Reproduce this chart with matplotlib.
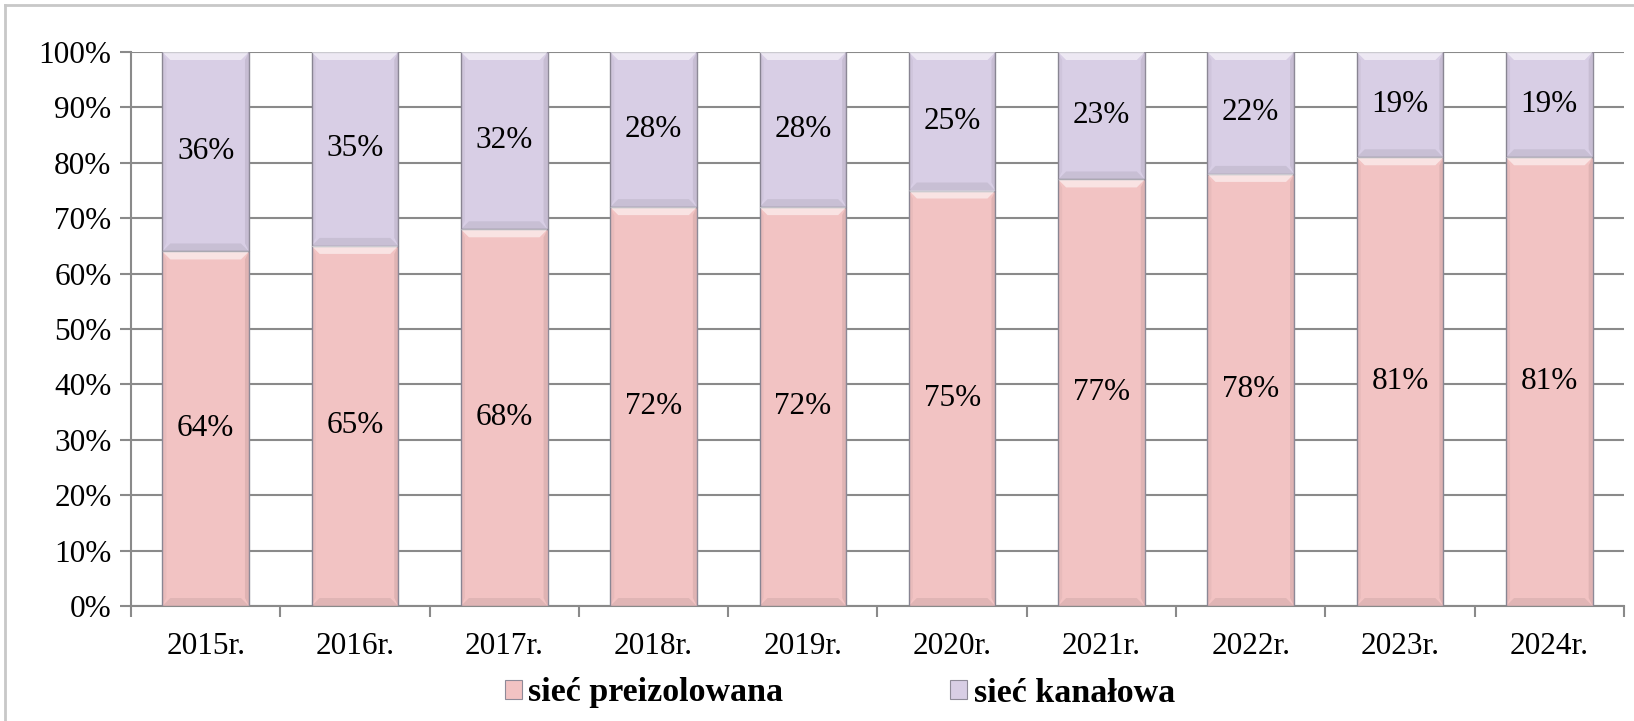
import matplotlib
matplotlib.use("Agg")
import matplotlib.pyplot as plt
from matplotlib.patches import Patch, Polygon
from matplotlib.lines import Line2D
import numpy as np

categories = ["2015r.", "2016r.", "2017r.", "2018r.", "2019r.",
              "2020r.", "2021r.", "2022r.", "2023r.", "2024r."]
preizolowana = [64, 65, 68, 72, 72, 75, 77, 78, 81, 81]
kanalowa = [36, 35, 32, 28, 28, 25, 23, 22, 19, 19]
series_names = ["sieć preizolowana", "sieć kanałowa"]
y_ticks = [0, 10, 20, 30, 40, 50, 60, 70, 80, 90, 100]
y_tick_labels = [f"{v}%" for v in y_ticks]

PINK = "#F2C3C3"
LAV = "#D8CEE5"
EDGE = "#8E8A98"
FONT = "Liberation Serif"
FS = 22.5

W, H, DPI = 1634, 721, 100
fig = plt.figure(figsize=(W / DPI, H / DPI), dpi=DPI)
ax = fig.add_axes([131 / W, (H - 606) / H, 1493 / W, 554 / H])

x = np.arange(len(categories))
bw = 0.58

b1 = ax.bar(x, preizolowana, width=bw, color=PINK, edgecolor=EDGE, linewidth=1.0, zorder=3)
b2 = ax.bar(x, kanalowa, width=bw, bottom=preizolowana, color=LAV, edgecolor=EDGE,
            linewidth=1.0, zorder=3)

# bevel decoration (derived from bar geometry)
bx = 8 / 149.3          # bevel width in category units
by = 8 / 554 * 100      # bevel height in percent units
def bevel(rect):
    x0, y0 = rect.get_x(), rect.get_y()
    x1, y1 = x0 + rect.get_width(), y0 + rect.get_height()
    top = Polygon([[x0, y1], [x1, y1], [x1 - bx, y1 - by], [x0 + bx, y1 - by]],
                  closed=True, facecolor="white", alpha=0.55, edgecolor="none", zorder=4)
    bot = Polygon([[x0, y0], [x1, y0], [x1 - bx, y0 + by], [x0 + bx, y0 + by]],
                  closed=True, facecolor="black", alpha=0.07, edgecolor="none", zorder=4)
    left = Polygon([[x0, y0], [x0, y1], [x0 + bx * 0.5, y1 - by], [x0 + bx * 0.5, y0 + by]],
                   closed=True, facecolor="black", alpha=0.04, edgecolor="none", zorder=4)
    right = Polygon([[x1, y0], [x1, y1], [x1 - bx * 0.5, y1 - by], [x1 - bx * 0.5, y0 + by]],
                    closed=True, facecolor="black", alpha=0.08, edgecolor="none", zorder=4)
    for p in (top, bot, left, right):
        ax.add_patch(p)

for r in list(b1) + list(b2):
    bevel(r)

# data labels
for i in range(len(categories)):
    ax.text(x[i], preizolowana[i] / 2, f"{preizolowana[i]}%", ha="center", va="center",
            fontsize=FS, family=FONT, color="black", zorder=5)
    ax.text(x[i], preizolowana[i] + kanalowa[i] / 2, f"{kanalowa[i]}%", ha="center",
            va="center", fontsize=FS, family=FONT, color="black", zorder=5)

ax.set_xlim(-0.5, len(categories) - 0.5)
ax.set_ylim(0, 100)
ax.set_yticks(y_ticks)
ax.set_yticklabels(y_tick_labels, fontsize=FS, family=FONT)
ax.yaxis.grid(True, color="#8A8A8A", linewidth=1.5, zorder=0)
ax.set_axisbelow(True)

ax.set_xticks(x)
ax.set_xticklabels(categories, fontsize=FS, family=FONT)
ax.tick_params(axis="x", length=0, pad=19)
ax.set_xticks(np.arange(-0.5, len(categories) + 0.5, 1.0), minor=True)
ax.tick_params(axis="x", which="minor", length=8, width=1.5, color="#8A8A8A")
ax.tick_params(axis="y", length=8, width=1.5, color="#8A8A8A", pad=6)

for s in ["top", "right"]:
    ax.spines[s].set_visible(False)
for s in ["left", "bottom"]:
    ax.spines[s].set_color("#8A8A8A")
    ax.spines[s].set_linewidth(1.5)

# outer border
fig.add_artist(Line2D([5 / W, 5 / W], [0, 1 - 5 / H], transform=fig.transFigure,
                      color="#C8C8C8", linewidth=2))
fig.add_artist(Line2D([5 / W, 1], [1 - 5 / H, 1 - 5 / H], transform=fig.transFigure,
                      color="#C8C8C8", linewidth=2))

handles = [Patch(facecolor=PINK, edgecolor=EDGE, linewidth=0.8),
           Patch(facecolor=LAV, edgecolor=EDGE, linewidth=0.8)]
fig.legend(handles, series_names, loc="center", bbox_to_anchor=(840 / W, 28 / H), ncol=2,
           frameon=False, prop={"family": FONT, "weight": "bold", "size": 24.5},
           handlelength=0.5, handleheight=0.5, handletextpad=0.2, columnspacing=4.9,
           borderpad=0, borderaxespad=0)

fig.savefig("out.png", dpi=DPI)
